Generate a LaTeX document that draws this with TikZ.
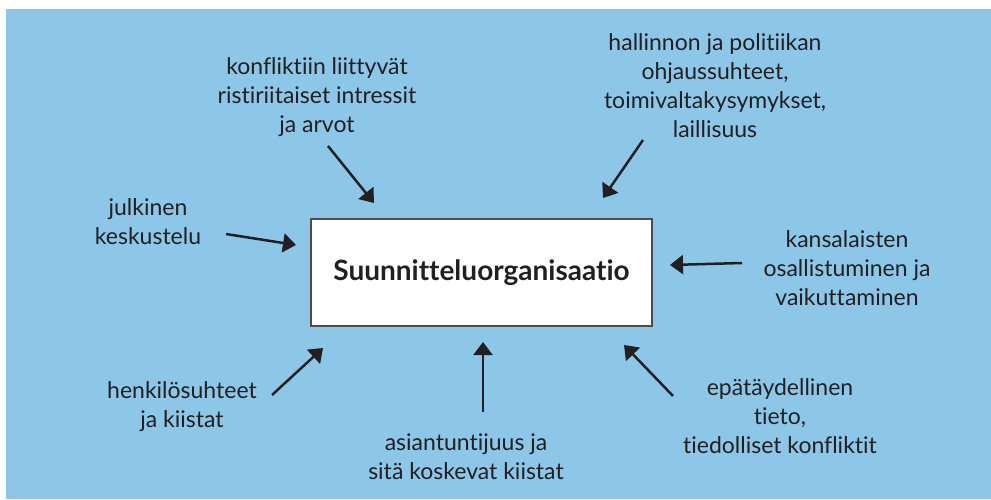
\documentclass[tikz,border=0pt]{standalone}
\usepackage{fontspec}
\setmainfont{Lato}[Ligatures={NoCommon}]
\usetikzlibrary{arrows.meta}
\definecolor{tausta}{RGB}{140,199,232}
\definecolor{musta}{RGB}{35,31,32}
\tikzset{
  teksti/.style={align=center, text=musta, font=\fontsize{23}{29}\selectfont},
  nuoli/.style={-{Triangle[length=13pt,width=19pt]}, line width=2.5pt, draw=musta},
}
\begin{document}
\begin{tikzpicture}[x=1pt,y=-1pt]
	\useasboundingbox (0,0) rectangle (991,499);
	\fill[tausta] (6,9) rectangle (991,499);
	% keskellä
	\node (Su) at (481.5,272.5) [draw=black!70, line width=1.5pt, fill=white, minimum width=341pt, minimum height=107pt, text=musta, font=\bfseries\fontsize{28}{29}\selectfont] {Suunnitteluorganisaatio};
	% ympärillä
	\node (Ko) at (317,97) [teksti] {konfliktiin liittyvät\\ristiriitaiset intressit\\ja arvot};
	\node (Ha) at (715,86) [teksti] {hallinnon ja politiikan\\ohjaussuhteet,\\toimivaltakysymykset,\\laillisuus};
	\node (Ju) at (148,222) [teksti] {julkinen\\keskustelu};
	\node (Ka) at (847,268) [teksti] {kansalaisten\\osallistuminen ja\\vaikuttaminen};
	\node (He) at (182,407) [teksti] {henkilösuhteet\\ja kiistat};
	\node (As) at (466,457) [teksti] {asiantuntijuus ja\\sitä koskevat kiistat};
	\node (Ep) at (780,416) [teksti] {epätäydellinen\\tieto,\\tiedolliset konfliktit};
	% nuolet
	\coordinate (Ko1) at (328,146); \coordinate (Ko2) at (374,203);
	\coordinate (Ha1) at (643,140); \coordinate (Ha2) at (603,198);
	\coordinate (Ju1) at (226,234); \coordinate (Ju2) at (296,245);
	\coordinate (Ka1) at (742,263); \coordinate (Ka2) at (670,265);
	\coordinate (He1) at (272,395); \coordinate (He2) at (323,348);
	\coordinate (As1) at (483,412); \coordinate (As2) at (483,342);
	\coordinate (Ep1) at (673,396); \coordinate (Ep2) at (624,345);
	\foreach \n in {Ko,Ha,Ju,Ka,He,As,Ep}
		\draw[nuoli] (\n1) -- (\n2);
\end{tikzpicture}
\end{document}
